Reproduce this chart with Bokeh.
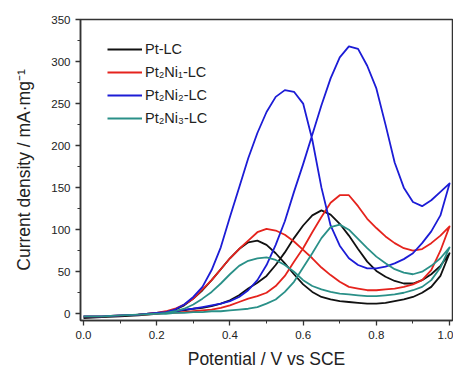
from bokeh.plotting import figure
from bokeh.models import Range1d, FixedTicker, PrintfTickFormatter, Legend, LegendItem
from bokeh.embed import file_html
from bokeh.resources import INLINE

# Potential grid (V vs SCE)
potential = [0.0, 0.05, 0.1, 0.15, 0.2, 0.225, 0.25, 0.275, 0.3, 0.325, 0.35, 0.375,
             0.4, 0.425, 0.45, 0.475, 0.5, 0.525, 0.55, 0.575, 0.6, 0.625, 0.65, 0.675,
             0.7, 0.725, 0.75, 0.775, 0.8, 0.825, 0.85, 0.875, 0.9, 0.925, 0.95, 0.975, 1.0]

# Forward (anodic) scans, current density mA/mg
pt_fwd = [-5, -4, -3, -1, 1, 2, 3, 4, 6, 7, 9, 12,
          16, 22, 30, 37, 45, 58, 73, 90, 105, 117, 123, 118,
          107, 93, 77, 62, 51, 44, 39, 36, 36, 40, 47, 57, 72]
ni1_fwd = [-3, -3, -2, -1, 0, 1, 1, 2, 3, 4, 5, 7,
           10, 14, 18, 21, 25, 33, 45, 62, 78, 97, 115, 132,
           141, 141, 128, 113, 102, 92, 84, 78, 75, 77, 84, 93, 104]
ni2_fwd = [-3, -3, -2, -1, 1, 2, 3, 5, 6, 8, 10, 12,
           15, 20, 28, 40, 58, 82, 110, 145, 178, 213, 248, 280,
           305, 318, 315, 295, 268, 225, 180, 150, 133, 128, 135, 145, 155]
ni3_fwd = [-3, -3, -2, -1, 0, 0, 1, 1, 2, 2, 3, 3,
           4, 5, 6, 8, 12, 17, 26, 38, 55, 72, 90, 103,
           106, 100, 89, 78, 68, 60, 53, 49, 47, 50, 57, 66, 79]

# Reverse (cathodic) scans, listed on the same ascending potential grid
pt_rev = [-5, -4, -3, -2, 0, 2, 5, 10, 18, 28, 40, 53,
          66, 77, 85, 87, 82, 72, 60, 47, 35, 26, 20, 17,
          15, 14, 13, 12, 12, 13, 15, 17, 20, 25, 32, 45, 72]
ni1_rev = [-3, -3, -2, -1, 1, 3, 6, 11, 18, 29, 40, 53,
           66, 77, 87, 97, 101, 99, 94, 86, 76, 66, 55, 46,
           38, 32, 30, 28, 28, 29, 30, 32, 35, 40, 52, 75, 104]
ni2_rev = [-3, -3, -2, -1, 1, 2, 5, 11, 20, 32, 52, 79,
           115, 150, 185, 215, 240, 258, 266, 264, 250, 207, 150, 105,
           81, 66, 58, 54, 54, 56, 60, 65, 72, 84, 98, 117, 155]
ni3_rev = [-3, -3, -2, -1, 0, 1, 3, 6, 11, 18, 26, 36,
           47, 57, 63, 66, 67, 64, 58, 50, 40, 33, 29, 26,
           24, 23, 22, 21, 21, 22, 23, 25, 28, 32, 40, 55, 79]

labels = ["Pt-LC", "Pt\u2082Ni\u2081-LC", "Pt\u2082Ni\u2082-LC", "Pt\u2082Ni\u2083-LC"]
colors = ["#111111", "#e5231d", "#1c1cd6", "#2a9088"]

x_ticks = [0.0, 0.2, 0.4, 0.6, 0.8, 1.0]
y_ticks = [0, 50, 100, 150, 200, 250, 300, 350]

FONT = "Liberation Sans"

p = figure(width=453, height=371, output_backend="svg", toolbar_location=None,
           x_range=Range1d(-0.0082, 1.008), y_range=Range1d(-8, 350),
           min_border_left=80, min_border_right=1, min_border_top=19, min_border_bottom=47)
p.grid.visible = False
p.outline_line_color = "#333333"
p.outline_line_width = 1.5
p.background_fill_color = "white"

series = [(pt_fwd, pt_rev), (ni1_fwd, ni1_rev), (ni2_fwd, ni2_rev), (ni3_fwd, ni3_rev)]
items = []
for (fwd, rev), lab, col in zip(series, labels, colors):
    xs = potential + potential[::-1]
    ys = fwd + rev[::-1]
    r = p.line(xs, ys, line_color=col, line_width=1.8, line_join="round")
    items.append(LegendItem(label=lab, renderers=[r]))

leg = Legend(items=items, location=(27, 192), padding=0, margin=0, spacing=3,
             glyph_width=35, glyph_height=20, label_height=20, label_standoff=3,
             border_line_color=None, background_fill_alpha=0,
             label_text_font=FONT, label_text_font_size="14.5px", label_text_color="#222222")
p.add_layout(leg)

for ax in (p.xaxis[0], p.yaxis[0]):
    ax.axis_line_color = "#333333"
    ax.axis_line_width = 1.5
    ax.major_tick_line_color = "#333333"
    ax.minor_tick_line_color = "#333333"
    ax.major_tick_line_width = 1.3
    ax.minor_tick_line_width = 1.0
    ax.major_tick_in = 0
    ax.major_tick_out = 5
    ax.minor_tick_in = 0
    ax.minor_tick_out = 3
    ax.major_label_text_font = FONT
    ax.major_label_text_font_size = "11.5px"
    ax.major_label_text_color = "#222222"
    ax.axis_label_text_font = FONT
    ax.axis_label_text_font_size = "17.5px"
    ax.axis_label_text_font_style = "normal"
    ax.axis_label_text_color = "#222222"
    ax.major_label_standoff = 5

p.xaxis[0].ticker = FixedTicker(ticks=x_ticks, minor_ticks=[0.1, 0.3, 0.5, 0.7, 0.9])
p.xaxis[0].formatter = PrintfTickFormatter(format="%.1f")
p.xaxis[0].axis_label = "Potential / V vs SCE"
p.xaxis[0].axis_label_standoff = 7

p.yaxis[0].ticker = FixedTicker(ticks=y_ticks, minor_ticks=[25, 75, 125, 175, 225, 275, 325])
p.yaxis[0].axis_label = "Current density / mA\u00b7mg\u207b\u00b9"
p.yaxis[0].axis_label_standoff = 14

open("out.html", "w").write(file_html(p, INLINE))
